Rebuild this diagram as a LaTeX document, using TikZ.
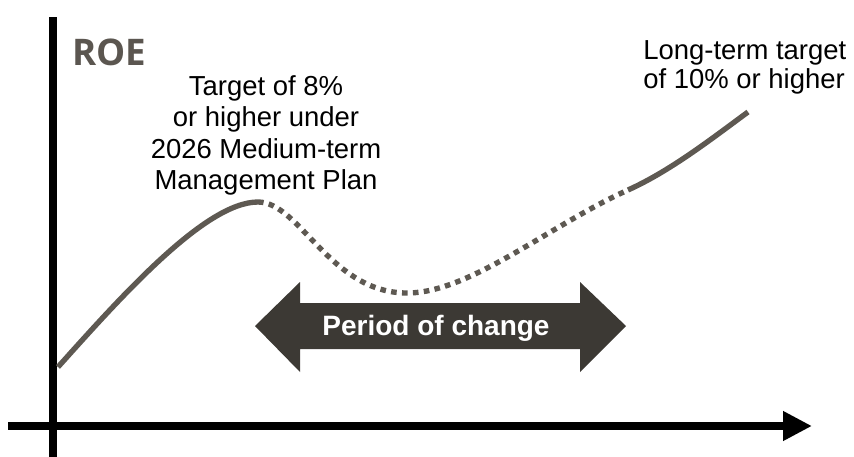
\documentclass[tikz,border=0pt]{standalone}
\usepackage{fontspec}
\setmainfont{Liberation Sans}
\newfontfamily\roefont{Open Sans}
\usetikzlibrary{arrows.meta}
\definecolor{curvegray}{HTML}{5E5952}
\definecolor{arrowdark}{HTML}{3C3934}
\definecolor{labelgray}{HTML}{5B5650}
\tikzset{
  axisline/.style={line width=6.5pt, black},
  roeline/.style={line width=4pt, curvegray},
  roedots/.style={roeline, dash pattern=on 4.2pt off 4pt},
  label/.style={inner sep=0pt},
}
\begin{document}
\begin{tikzpicture}[x=0.75pt, y=-0.75pt]
  \useasboundingbox (0,0) rectangle (854,457);

  % axes
  \coordinate (ytop) at (53,17);
  \coordinate (ybot) at (53,470);
  \coordinate (xleft) at (8,426);
  \coordinate (xright) at (812,426);
  \draw[axisline, line width=6pt] (ybot) -- (ytop);
  \draw[axisline, -{Triangle[length=21.75pt, width=21pt]}] (xleft) -- (xright);

  % ROE path: solid rise, dotted dip through the period of change, solid rise
  \coordinate (p0) at (58,367);
  \coordinate (p1) at (258,202);
  \coordinate (p2) at (407,293);
  \coordinate (p3) at (628,190);
  \coordinate (p4) at (748,112);
  \draw[roeline] (p0) .. controls (120,298) and (205,202) .. (p1);
  \draw[roedots] (p1) .. controls (300,202) and (330,293) .. (p2)
                      .. controls (470,293) and (550,225) .. (p3);
  \draw[roeline] (p3) .. controls (670,171) and (710,140) .. (p4);

  % axis label
  \node[anchor=base west, inner sep=0pt, text=labelgray,
        font=\roefont\bfseries\fontsize{27.5}{30}\selectfont] (roe) at (72,65) {ROE};

  % targets
  \node[label, anchor=north, align=center,
        font=\fontsize{20.6}{23.6}\selectfont] (mid) at (266,75)
    {Target of 8\%\\or higher under\\2026 Medium-term\\Management Plan};
  \node[label, anchor=north west, align=left,
        font=\fontsize{20.6}{22}\selectfont] (long) at (643,40)
    {Long-term target\\of 10\% or higher};

  % period of change double arrow
  \fill[arrowdark] (255,326) -- (300,282) -- (300,303) -- (580,303) -- (580,282)
    -- (626,326) -- (580,372) -- (580,349) -- (300,349) -- (300,372) -- cycle;
  \node[anchor=base, inner sep=0pt, text=white,
        font=\bfseries\fontsize{21}{24}\selectfont] (period) at (436,335) {Period of change};
\end{tikzpicture}
\end{document}
